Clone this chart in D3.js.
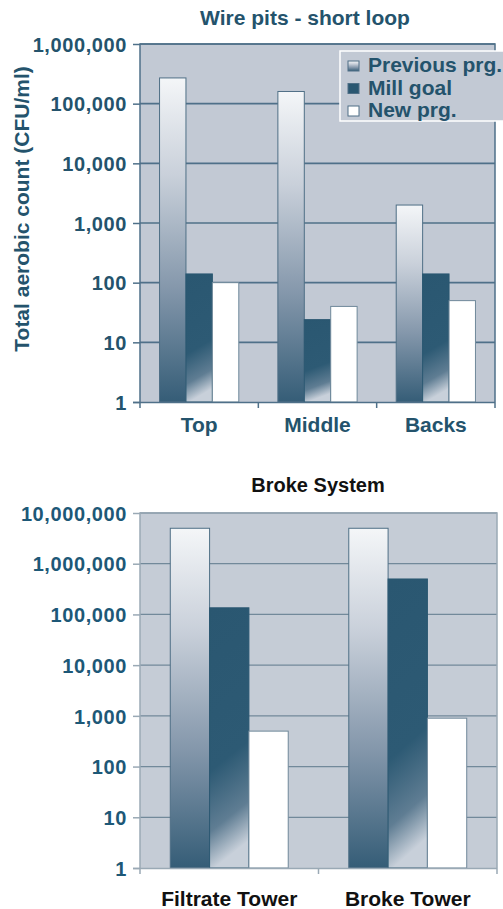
<!DOCTYPE html>
<html>
<head>
<meta charset="utf-8">
<script src="https://cdn.jsdelivr.net/npm/d3@7/dist/d3.min.js"></script>
<style>
  html, body { margin: 0; padding: 0; background: #ffffff; }
  svg { display: block; }
  text { font-family: "Liberation Sans", Arial, sans-serif; font-weight: bold; }
</style>
</head>
<body>
<svg id="chart" width="503" height="909"></svg>
<script>
// Wire pits chart data
const wireCategories = ["Top", "Middle", "Backs"];
const seriesNames = ["Previous prg.", "Mill goal", "New prg."];
const wirePrevious = [270000, 160000, 2000];
const wireMillGoal = [140, 24, 140];
const wireNewPrg = [100, 40, 50];
const wireTicks = [1, 10, 100, 1000, 10000, 100000, 1000000];

// Broke system chart data
const brokeCategories = ["Filtrate Tower", "Broke Tower"];
const brokePrevious = [5000000, 5000000];
const brokeMillGoal = [135000, 500000];
const brokeNewPrg = [500, 900];
const brokeTicks = [1, 10, 100, 1000, 10000, 100000, 1000000, 10000000];

const svg = d3.select("#chart");
const fmt = d3.format(",");

// Gradients for the bar fills
const defs = svg.append("defs");
const gPrev = defs.append("linearGradient").attr("id", "gPrev")
  .attr("x1", 0).attr("y1", 0).attr("x2", 0).attr("y2", 1);
[[0, "#f4f6f8"], [0.3, "#c9d0da"], [0.65, "#8497ab"], [1, "#355d77"]]
  .forEach(([o, c]) => gPrev.append("stop").attr("offset", o).attr("stop-color", c));
const gMill = defs.append("linearGradient").attr("id", "gMill")
  .attr("x1", 0).attr("y1", 0).attr("x2", 0.12).attr("y2", 1);
[[0, "#2a5771"], [0.62, "#2d5a74"], [0.85, "#5f7d93"], [1, "#c8d0da"]]
  .forEach(([o, c]) => gMill.append("stop").attr("offset", o).attr("stop-color", c));

const fills = ["url(#gPrev)", "url(#gMill)", "#ffffff"];
const strokes = ["#4f6f86", "#2a5771", "#6f889a"];

function drawChart(opts) {
  const { categories, series, ticks, left, right, top, bottom,
          padOuter, bg, gridColor, gridWidth, tickColor, labelColor, frameColor } = opts;

  const y = d3.scaleLog().domain([ticks[0], ticks[ticks.length - 1]]).range([bottom, top]);
  const x0 = d3.scaleBand().domain(categories).range([left, right]).padding(0);
  const x1 = d3.scaleBand().domain(seriesNames).range([0, x0.bandwidth()])
    .paddingInner(0).paddingOuter(padOuter);

  const g = svg.append("g");

  // plot background
  g.append("rect").attr("x", left).attr("y", top)
    .attr("width", right - left).attr("height", bottom - top).attr("fill", bg);

  // horizontal gridlines
  g.append("g").selectAll("line").data(ticks.slice(1)).join("line")
    .attr("x1", left).attr("x2", right)
    .attr("y1", d => y(d)).attr("y2", d => y(d))
    .attr("stroke", gridColor).attr("stroke-width", gridWidth);

  // bars
  const groups = g.append("g").selectAll("g").data(categories).join("g")
    .attr("transform", d => `translate(${x0(d)},0)`);
  groups.selectAll("rect")
    .data((d, i) => seriesNames.map((s, k) => ({ s, k, v: series[k][i] })))
    .join("rect")
    .attr("x", d => x1(d.s))
    .attr("y", d => y(d.v))
    .attr("width", x1.bandwidth())
    .attr("height", d => bottom - y(d.v))
    .attr("fill", d => fills[d.k])
    .attr("stroke", d => strokes[d.k])
    .attr("stroke-width", 1);

  // frame: left, top and right edges
  g.append("path")
    .attr("d", `M${left},${bottom}V${top}H${right}V${bottom}`)
    .attr("fill", "none").attr("stroke", frameColor).attr("stroke-width", 1.5);

  // y axis
  const yAxis = d3.axisLeft(y).tickValues(ticks).tickFormat(fmt).tickSize(7).tickPadding(6);
  const ya = g.append("g").attr("transform", `translate(${left},0)`).call(yAxis);
  ya.select(".domain").remove();
  ya.selectAll(".tick line").attr("stroke", frameColor).attr("stroke-width", 1.5);
  ya.selectAll(".tick text")
    .attr("fill", tickColor).style("font-size", "20px").style("letter-spacing", "0.6px")
    .attr("dy", "0.36em");

  // x axis
  const xAxis = d3.axisBottom(x0).tickSize(0).tickPadding(opts.xLabelPad);
  const xa = g.append("g").attr("transform", `translate(0,${bottom})`).call(xAxis);
  xa.select(".domain").attr("stroke", opts.baseColor).attr("stroke-width", 1.5)
    .attr("d", `M${left - 7},0.5H${right}`);
  xa.selectAll(".tick text").attr("fill", labelColor).style("font-size", "21px");
  // category boundary ticks
  g.append("g").selectAll("line")
    .data(categories.map(c => x0(c)).concat([right]))
    .join("line")
    .attr("x1", d => d).attr("x2", d => d)
    .attr("y1", bottom).attr("y2", bottom + 6)
    .attr("stroke", opts.baseColor).attr("stroke-width", 1.5);

  return { x0, y };
}

// ---- Wire pits - short loop ----
drawChart({
  categories: wireCategories,
  series: [wirePrevious, wireMillGoal, wireNewPrg],
  ticks: wireTicks,
  left: 140, right: 495, top: 44, bottom: 402,
  padOuter: 0.74,
  bg: "#c2c9d4", gridColor: "#4f7089", gridWidth: 1.6,
  tickColor: "#24536c", labelColor: "#24536c", frameColor: "#4f7089",
  baseColor: "#4f7089", xLabelPad: 15
});

svg.append("text").attr("x", 305).attr("y", 25).attr("text-anchor", "middle")
  .attr("fill", "#24536c").style("font-size", "21px").text("Wire pits - short loop");

svg.append("text")
  .attr("transform", "translate(29,209) rotate(-90)")
  .attr("text-anchor", "middle")
  .attr("fill", "#24536c").style("font-size", "21px")
  .text("Total aerobic count (CFU/ml)");

// legend
const legend = svg.append("g");
legend.append("rect").attr("x", 340).attr("y", 51).attr("width", 175).attr("height", 70)
  .attr("fill", "#c2c9d4").attr("stroke", "#ffffff").attr("stroke-width", 1.5);
const legendSwatch = ["#8a9cb0", "#2a5771", "#ffffff"];
const legendItems = legend.selectAll("g").data(seriesNames).join("g")
  .attr("transform", (d, i) => `translate(348,${72 + i * 22.5})`);
legendItems.append("rect").attr("x", 0).attr("y", -11).attr("width", 11).attr("height", 10)
  .attr("fill", (d, i) => i === 0 ? "url(#gPrev)" : legendSwatch[i])
  .attr("stroke", "#4f6f86").attr("stroke-width", 1);
legendItems.append("text").attr("x", 20).attr("y", 0)
  .attr("fill", "#24536c").style("font-size", "21px").text(d => d);

// ---- Broke System ----
drawChart({
  categories: brokeCategories,
  series: [brokePrevious, brokeMillGoal, brokeNewPrg],
  ticks: brokeTicks,
  left: 140, right: 497, top: 513, bottom: 868,
  padOuter: 0.77,
  bg: "#c5ccd6", gridColor: "#72899a", gridWidth: 1.3,
  tickColor: "#1d5877", labelColor: "#111111", frameColor: "#9aa9b5",
  baseColor: "#9aa9b5", xLabelPad: 23
});

svg.append("text").attr("x", 318).attr("y", 492).attr("text-anchor", "middle")
  .attr("fill", "#111111").style("font-size", "20px").text("Broke System");
</script>
</body>
</html>
